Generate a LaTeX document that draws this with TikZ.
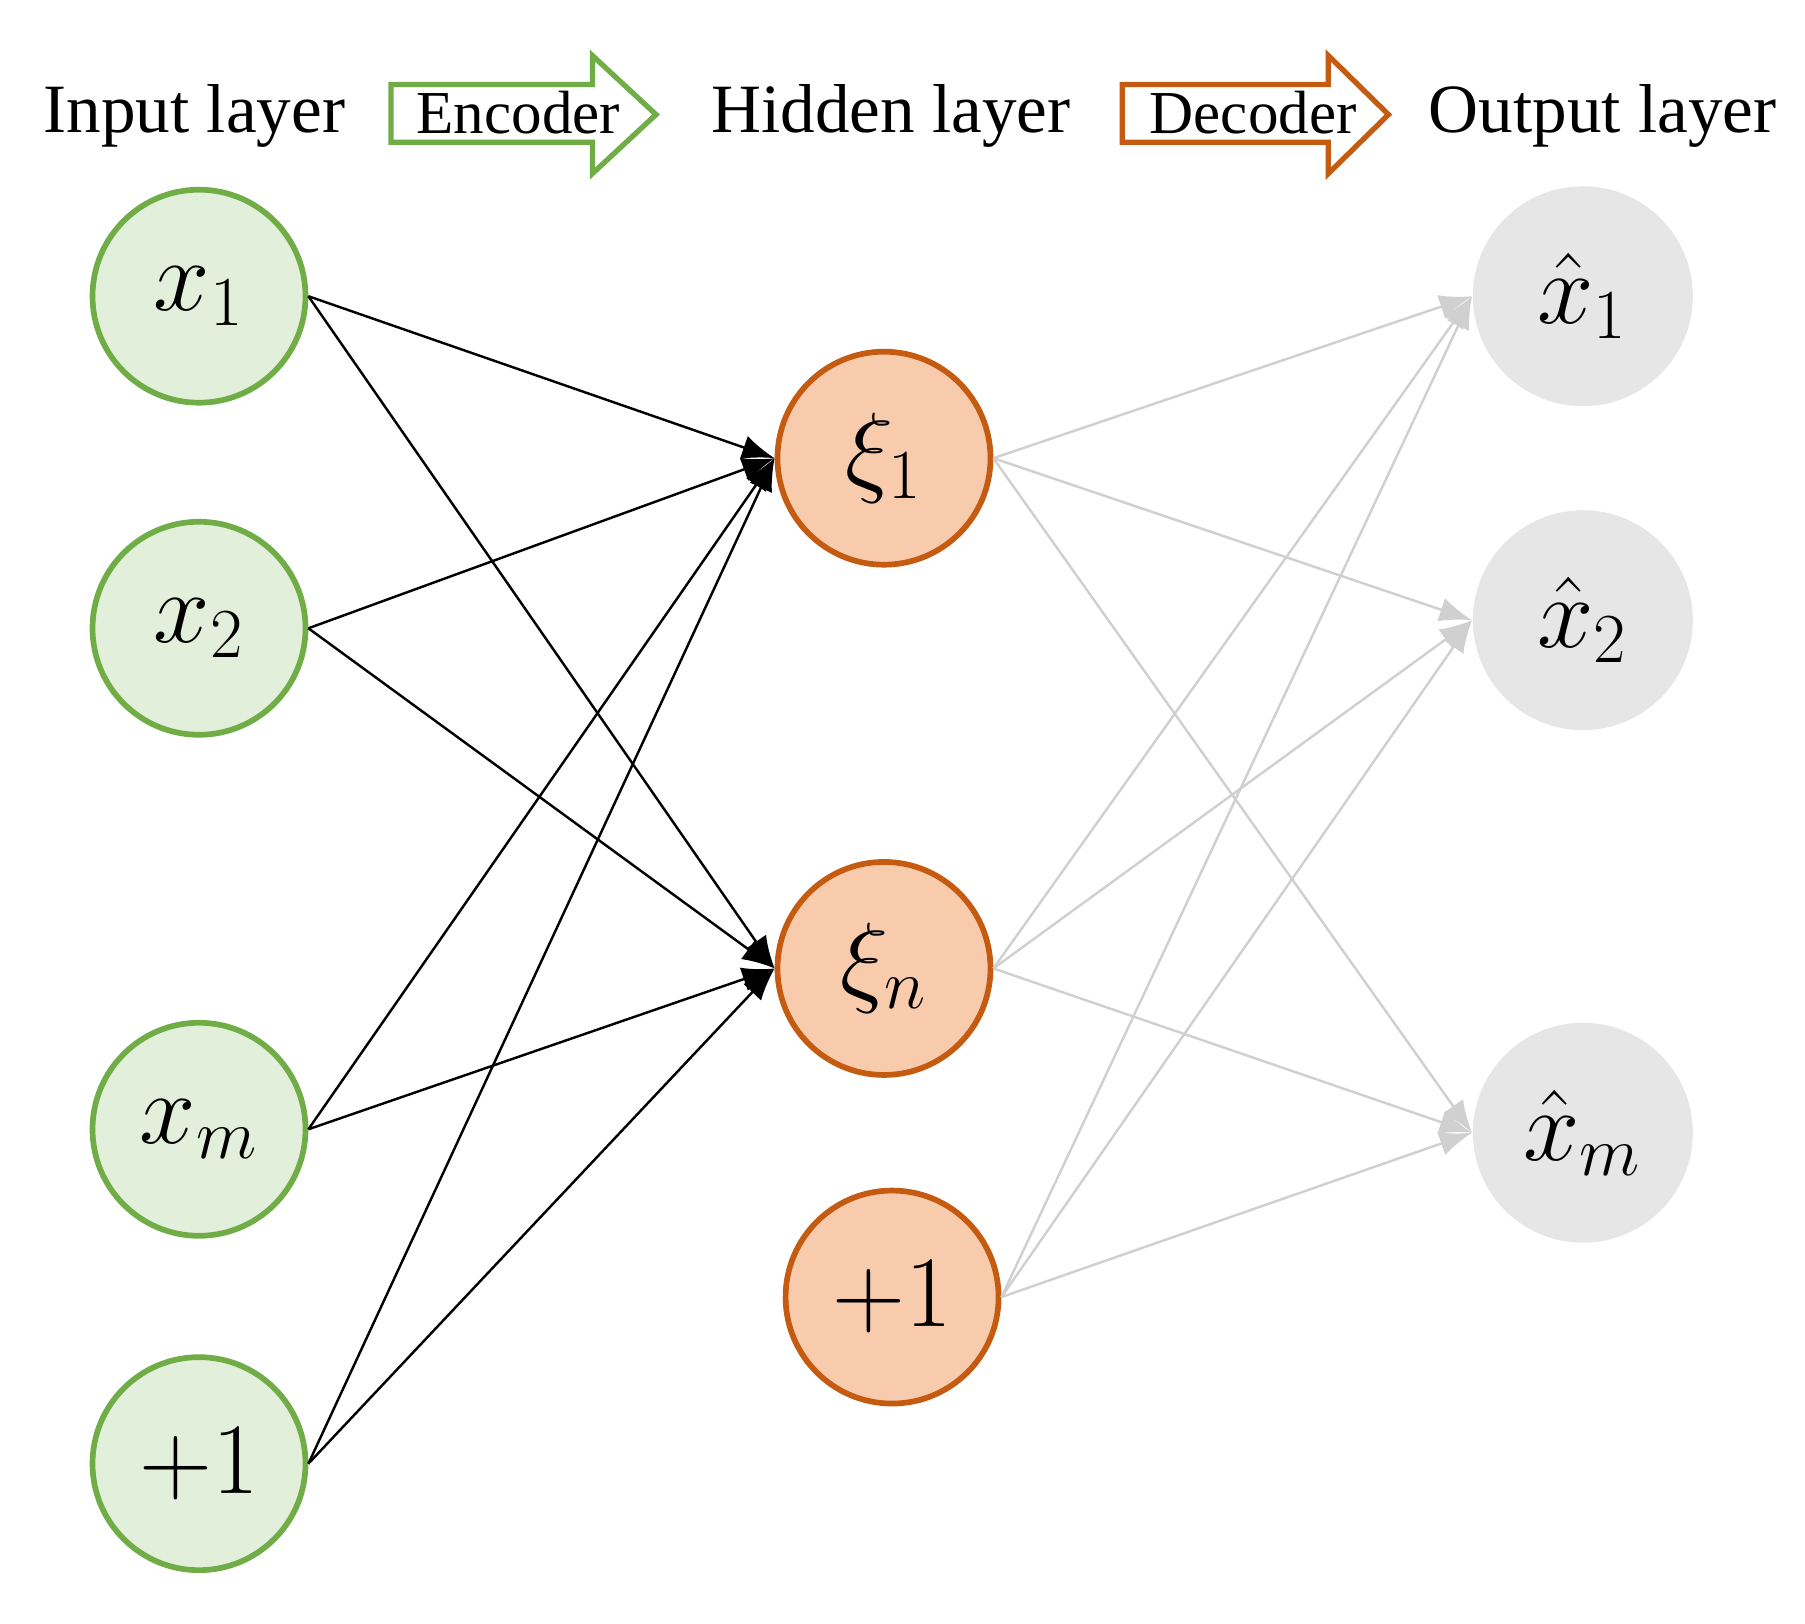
\documentclass[tikz,border=0pt]{standalone}
\usepackage{fontspec}
\setmainfont{Liberation Serif}
\usetikzlibrary{arrows.meta}
\definecolor{ing}{HTML}{E2EFDA}\definecolor{inb}{HTML}{70AD47}
\definecolor{hf}{HTML}{F8CBAD}\definecolor{hb}{HTML}{C55A11}
\definecolor{of}{HTML}{E6E6E6}\definecolor{eg}{HTML}{D0D0D0}
\begin{document}
\begin{tikzpicture}[x=0.01cm,y=-0.01cm,
 inn/.style={circle,draw=inb,fill=ing,line width=1.4pt,minimum size=1.84cm,inner sep=0pt,font=\fontsize{23}{27}\selectfont},
 hid/.style={circle,draw=hb,fill=hf,line width=1.4pt,minimum size=1.84cm,inner sep=0pt,font=\fontsize{23}{27}\selectfont},
 outn/.style={circle,fill=of,minimum size=1.9cm,inner sep=0pt,font=\fontsize{23}{27}\selectfont},
 ttl/.style={font=\fontsize{17}{20}\selectfont},
 enc/.style={-{Latex[length=8pt,width=6pt]},line width=0.6pt,black},
 dec/.style={-{Latex[length=8pt,width=6pt]},line width=0.6pt,eg}]
\useasboundingbox (0,0) rectangle (1560,1403);
\node[ttl] (tin) at (168,100) {Input layer};
\node[ttl] (thid) at (770,100) {Hidden layer};
\node[ttl] (tout) at (1385,100) {Output layer};
\draw[inb,line width=1.3pt,fill=white] (338,73)--(512,73)--(512,48)--(567,99)--(512,150)--(512,123)--(338,123)--cycle;
\node[font=\fontsize{15}{18}\selectfont] (encl) at (448,97) {Encoder};
\draw[hb,line width=1.3pt,fill=white] (970,73)--(1148,73)--(1148,48)--(1200,99)--(1148,150)--(1148,123)--(970,123)--cycle;
\node[font=\fontsize{15}{18}\selectfont] (decl) at (1083,97) {Decoder};
\node[inn] (x1) at (172,256) {$x_1$};
\node[inn] (x2) at (172,543) {$x_2$};
\node[inn] (xm) at (172,976) {$x_m$};
\node[inn] (xb) at (172,1265) {$+1$};
\node[hid] (h1) at (764,396) {$\xi_1$};
\node[hid] (hn) at (764,837) {$\xi_n$};
\node[hid] (hb) at (771,1121) {$+1$};
\node[outn] (o1) at (1368,256) {$\hat{x}_1$};
\node[outn] (o2) at (1368,536) {$\hat{x}_2$};
\node[outn] (om) at (1368,979) {$\hat{x}_m$};
\foreach \s in {x1,x2,xm,xb}{\foreach \t in {h1,hn}{\draw[enc] (\s.east)--(\t.west);}}
\foreach \s in {h1,hn,hb}{\foreach \t in {o1,o2,om}{\draw[dec] (\s.east)--(\t.west);}}
\end{tikzpicture}
\end{document}
